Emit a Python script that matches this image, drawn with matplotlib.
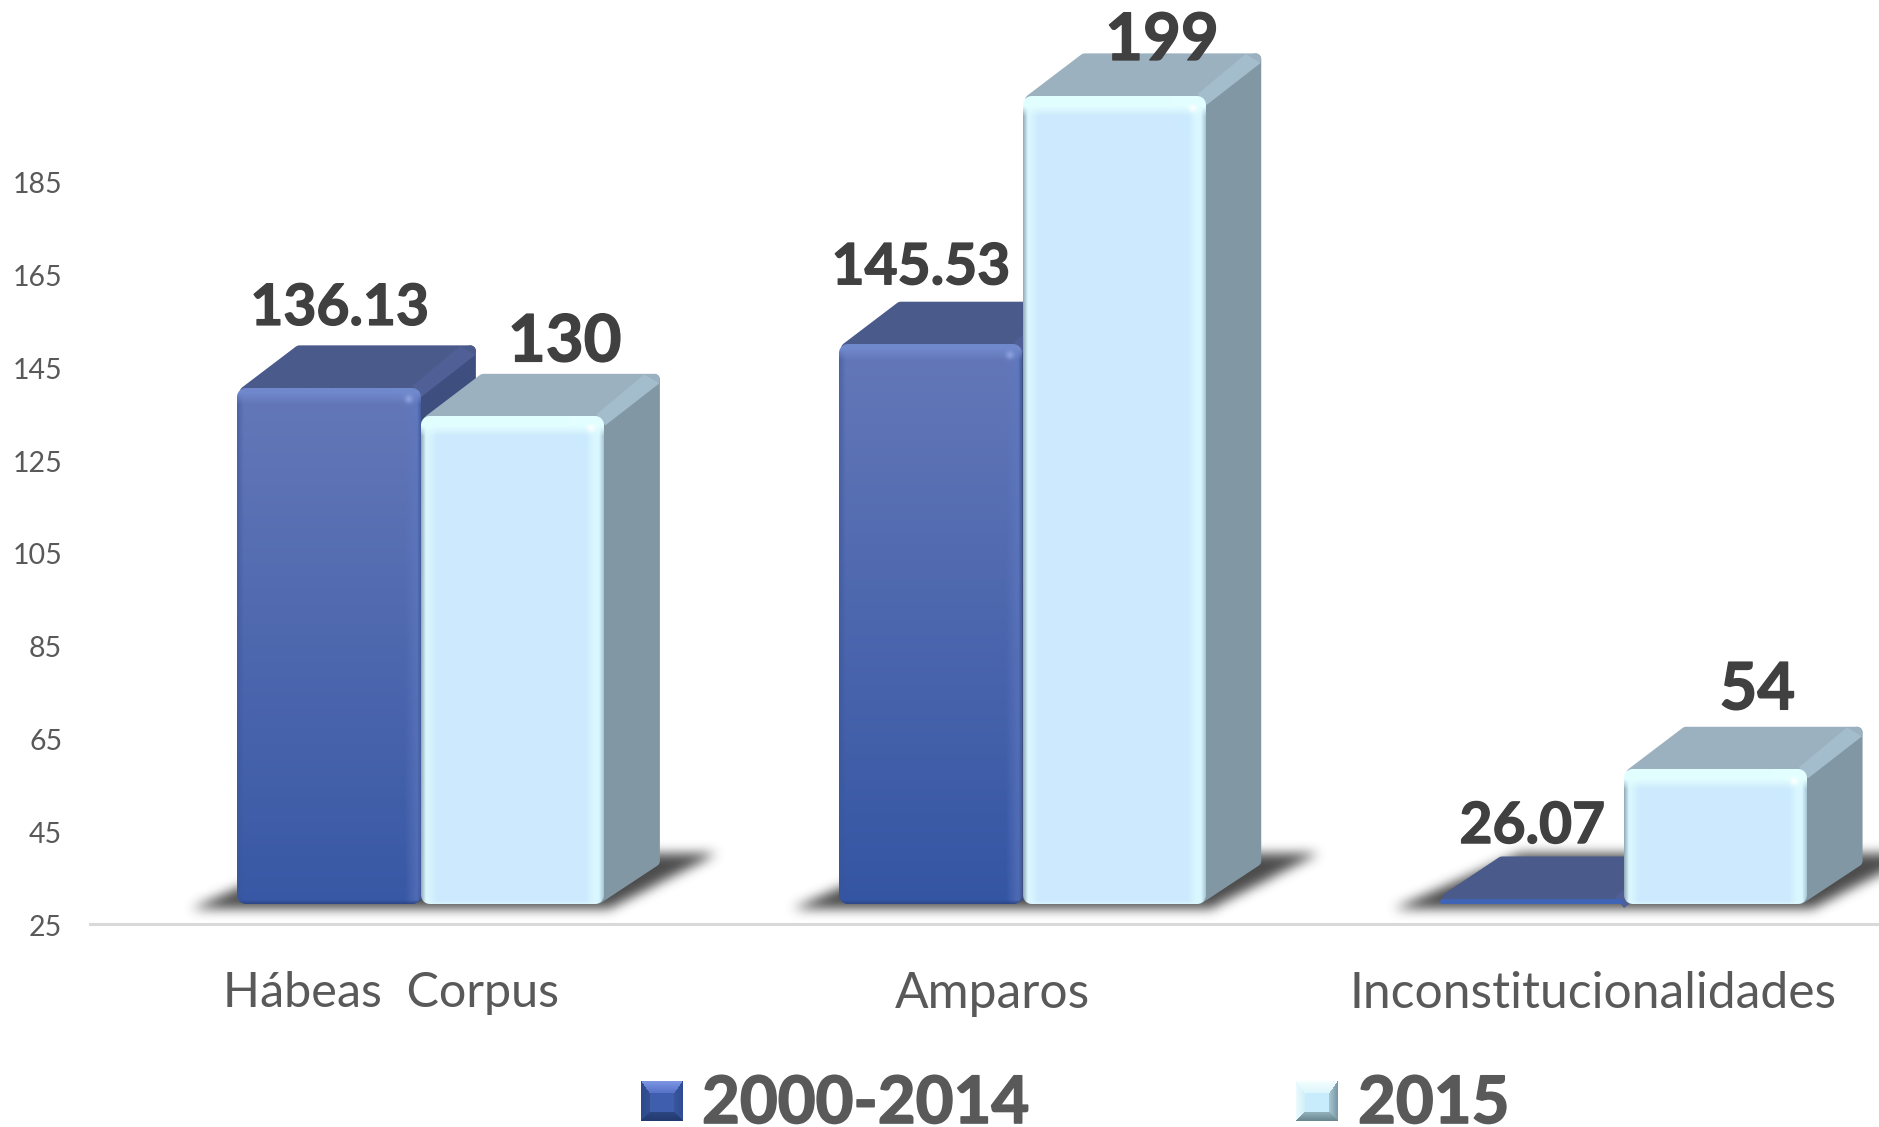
import numpy as np
import matplotlib
matplotlib.use('Agg')
import matplotlib.pyplot as plt
import matplotlib.patheffects as pe
from matplotlib.colors import to_rgb
from matplotlib.path import Path
from matplotlib.patches import Polygon
from matplotlib.transforms import ScaledTranslation

categories = ['Hábeas  Corpus', 'Amparos', 'Inconstitucionalidades']
series_names = ['2000-2014', '2015']
vals_old = [136.13, 145.53, 26.07]
vals_new = [130, 199, 54]
labels_old = ['136.13', '145.53', '26.07']
labels_new = ['130', '199', '54']
yticks = [25, 45, 65, 85, 105, 125, 145, 165, 185]

W, H = 1879, 1127
plt.rcParams['font.family'] = ['Lato', 'DejaVu Sans']

fig = plt.figure(figsize=(W/100, H/100), dpi=100, facecolor='white')
# axes runs off the right edge, same as the original
ax = fig.add_axes([90/W, (H-924)/H, 1804/W, 924/H])
ax.set_xlim(-0.5, 2.5)
ax.set_ylim(25, 25 + 924/4.644)
ax.autoscale(False)
for s in ['top', 'left', 'right']:
    ax.spines[s].set_visible(False)
ax.spines['bottom'].set_color('#d9d9d9')
ax.spines['bottom'].set_linewidth(2.2)
ax.set_yticks(yticks)
ax.set_xticks(range(3))
ax.set_xticklabels(categories, fontsize=35.8, color='#595959')
ax.get_xticklabels()[0].set_fontsize(34.9)  # the double space runs wide in Lato
ax.tick_params(axis='x', length=0, pad=34)
ax.tick_params(axis='y', length=0, pad=20, labelsize=20.5, labelcolor='#595959')
for lab in ax.get_yticklabels():
    lab.set_transform(lab.get_transform() + ScaledTranslation(0, -1.5/100, fig.dpi_scale_trans))

px_x = 1804/3.0  # pixels per category
px_y = 4.644     # pixels per value unit
bar_w = 183/px_x
floor = 25 + 20/px_y   # the 3d floor sits above the axis line
dep_x = 56/px_x
dep_y = 43/px_y


def mix(img, col, a):
    col = np.array(to_rgb(col))
    a = np.clip(a, 0, 1)[..., None]
    return img*(1-a) + col*a


def round_mask(w, h, r):
    r = min(r, h/2, w/2)
    xx, yy = np.meshgrid(np.arange(w)+0.5, np.arange(h)+0.5)
    qx = np.maximum(np.maximum(r-xx, xx-(w-r)), 0)
    qy = np.maximum(np.maximum(r-yy, yy-(h-r)), 0)
    return np.clip(r - np.hypot(qx, qy) + 0.5, 0, 1)


def front_img(w, h, dark):
    xx, yy = np.meshgrid(np.arange(w)+0.5, np.arange(h)+0.5)
    dl = xx; dr = w-xx; dt = yy; db = h-yy
    t = (yy/516.0)[..., None]
    if dark:
        img = np.array(to_rgb('#6478b8'))*(1-t) + np.array(to_rgb('#3858a5'))*t
        if h < 20:
            img = np.ones((h, w, 3))*np.array(to_rgb('#3f63b5'))
        else:
            img = mix(img, '#3a5499', (7-dl)/7*0.6)
            img = mix(img, '#5f78c0', (16-dr)/8*0.4)
            img = mix(img, '#35508f', (4-dr)/4*0.7)
            img = mix(img, '#7088cc', (16-dt)/9*0.8)
            img = mix(img, '#2c4586', (4-db)/4)
            img = mix(img, '#93a8e2', 0.8*np.exp(-((dr-12)**2+(dt-11)**2)/16.0))
    else:
        img = np.ones((h, w, 3))*np.array(to_rgb('#cceafd'))
        img = mix(img, '#daf6ff', (16-dl)/9)
        img = mix(img, '#8fa9b6', (5-dl)/5)
        img = mix(img, '#daf7ff', (18-dr)/8)
        img = mix(img, '#a4c4d4', (5-dr)/5)
        img = mix(img, '#e2feff', (20-dt)/10)
        img = mix(img, '#e0f8ff', (4-db)/4*0.7)
        img = mix(img, '#ffffff', 0.85*np.exp(-((dr-13)**2+(dt-12)**2)/16.0))
    return np.dstack([img, round_mask(w, h, 9)])


def draw_shadow(xl, z):
    # blurred floor shadow of one group, rasterised in pixels
    x0 = ax.transData.transform((xl, floor))
    pts = x0 + np.array([[-46, -5], [80, 50], [480, 50], [372, -5]])
    xs = np.arange(int(x0[0])-120, int(x0[0])+570)
    ys = np.arange(int(x0[1])-50, int(x0[1])+100)
    gx, gy = np.meshgrid(xs+0.5, ys+0.5)
    m = Path(pts).contains_points(np.c_[gx.ravel(), gy.ravel()]).reshape(gx.shape).astype(float)
    k = np.ones(11)/11
    for n in range(3):
        m = np.apply_along_axis(lambda v: np.convolve(v, k, 'same'), 0, m)
        m = np.apply_along_axis(lambda v: np.convolve(v, k, 'same'), 1, m)
    img = np.zeros(m.shape + (4,))
    img[..., :3] = to_rgb('#3c3c3c')
    img[..., 3] = m*0.92
    a = ax.transData.inverted().transform((xs[0], ys[0]))
    b = ax.transData.inverted().transform((xs[-1]+1, ys[-1]+1))
    ax.imshow(img, origin='lower', extent=(a[0], b[0], a[1], b[1]), aspect='auto',
              zorder=z, clip_on=False, interpolation='bilinear')


def draw_bar(xl, val, top_c, band_c, side_c, dark, z):
    top = val + 20/px_y
    xr = xl + bar_w
    ins_x = 6/px_x; ins_y = 6/px_y
    # side and top faces, fat round-joined edge gives the soft corners
    if not (dark and val < 30):
        side = [(xr-ins_x, floor+ins_y), (xr+dep_x-ins_x, floor+dep_y), (xr+dep_x-ins_x, top+dep_y-ins_y), (xr-ins_x, top)]
        ax.add_patch(Polygon(side, fc=side_c, ec=side_c, lw=8, joinstyle='round', zorder=z, clip_on=False))
    yf = max(top-4/px_y, floor+6/px_y)  # keep the top face above the floor on very short bars
    top_f = [(xl+8/px_x, yf), (xl+dep_x+ins_x, top+dep_y-ins_y), (xr+dep_x-ins_x, top+dep_y-ins_y), (xr-ins_x, yf)]
    ax.add_patch(Polygon(top_f, fc=top_c, ec=top_c, lw=8, joinstyle='round', zorder=z+0.1, clip_on=False))
    # lighter strip along the top/side edge
    band = [(xr-8/px_x, top+2/px_y), (xr+dep_x-16/px_x, top+dep_y-1/px_y), (xr+dep_x-1/px_x, top+dep_y-10/px_y),
            (xr+1/px_x, top-9/px_y)]
    ax.add_patch(Polygon(band, fc=band_c, ec='none', zorder=z+0.2, clip_on=False))
    w = int(round(bar_w*px_x))
    h = max(int(round((val-25)*px_y)), 5)
    ax.imshow(front_img(w, h, dark), extent=(xl, xr, floor, floor+h/px_y), aspect='auto',
              origin='upper', zorder=z+0.3, clip_on=False, interpolation='bilinear')


for i in range(3):
    draw_shadow(i-0.255, 1)
    draw_bar(i-0.255, vals_old[i], '#4a5a8a', '#505f95', '#3e4f7f', True, 2)
    draw_bar(i+0.051, vals_new[i], '#9bb1bf', '#a3bdcc', '#8297a4', False, 3)

# value labels sit by hand like in the original
off_old = [(-51, 63), (-71, 60), (-61, 56)]
off_new = [(174, 55), (170, 36), (164, 60)]
heavy = [pe.withStroke(linewidth=1.0, foreground='#404040')]
for i in range(3):
    ax.annotate(labels_old[i], xy=(i, vals_old[i]+20/px_y), xytext=off_old[i], textcoords='offset pixels',
                ha='center', va='baseline', fontsize=41, fontweight='bold', color='#404040', zorder=10,
                annotation_clip=False, path_effects=heavy)
    ax.annotate(labels_new[i], xy=(i, vals_new[i]+20/px_y), xytext=off_new[i], textcoords='offset pixels',
                ha='center', va='baseline', fontsize=47, fontweight='bold', color='#404040', zorder=10,
                annotation_clip=False, path_effects=heavy)


def legend_img(dark, w=42, h=40):
    xx, yy = np.meshgrid(np.linspace(0, 1, w), np.linspace(0, 1, h))
    if dark:
        cols = ['#3f5fae', '#7c94e4', '#2c4a90', '#2f4d96', '#223a70']
        fade = ['#5571c4', '#35508f', '#39559c', '#2c4680']
    else:
        cols = ['#c8ecfb', '#f4feff', '#eafafe', '#7a98a5', '#6b8890']
        fade = ['#dcf6fc', '#d2f0f8', '#a8c6d2', '#93b2bc']
    img = np.ones((h, w, 3))*np.array(to_rgb(cols[0]))
    # four bevel edges, scaled distance picks which one a pixel falls in
    d = [yy/0.30, xx/0.20, (1-xx)/0.20, (1-yy)/0.22]
    for n in range(4):
        others = [d[k] for k in range(4) if k != n]
        on = (d[n] < 1) & (d[n] <= others[0]) & (d[n] <= others[1]) & (d[n] <= others[2])
        c = np.array(to_rgb(cols[n+1]))*(1-d[n][..., None]) + np.array(to_rgb(fade[n]))*d[n][..., None]
        img[on] = c[on]
    return img


leg_x = [641, 1296]
text_x = [702, 1358]
heavy2 = [pe.withStroke(linewidth=1.2, foreground='#595959')]
for n in range(2):
    lax = fig.add_axes([leg_x[n]/W, (H-1121)/H, 42/W, 40/H])
    lax.imshow(legend_img(n == 0), aspect='auto', interpolation='bilinear')
    lax.axis('off')
    fig.text(text_x[n]/W, (H-1123)/H, series_names[n], fontsize=47, fontweight='bold', color='#595959',
             ha='left', va='baseline', path_effects=heavy2)

fig.savefig('out.png', dpi=100)
